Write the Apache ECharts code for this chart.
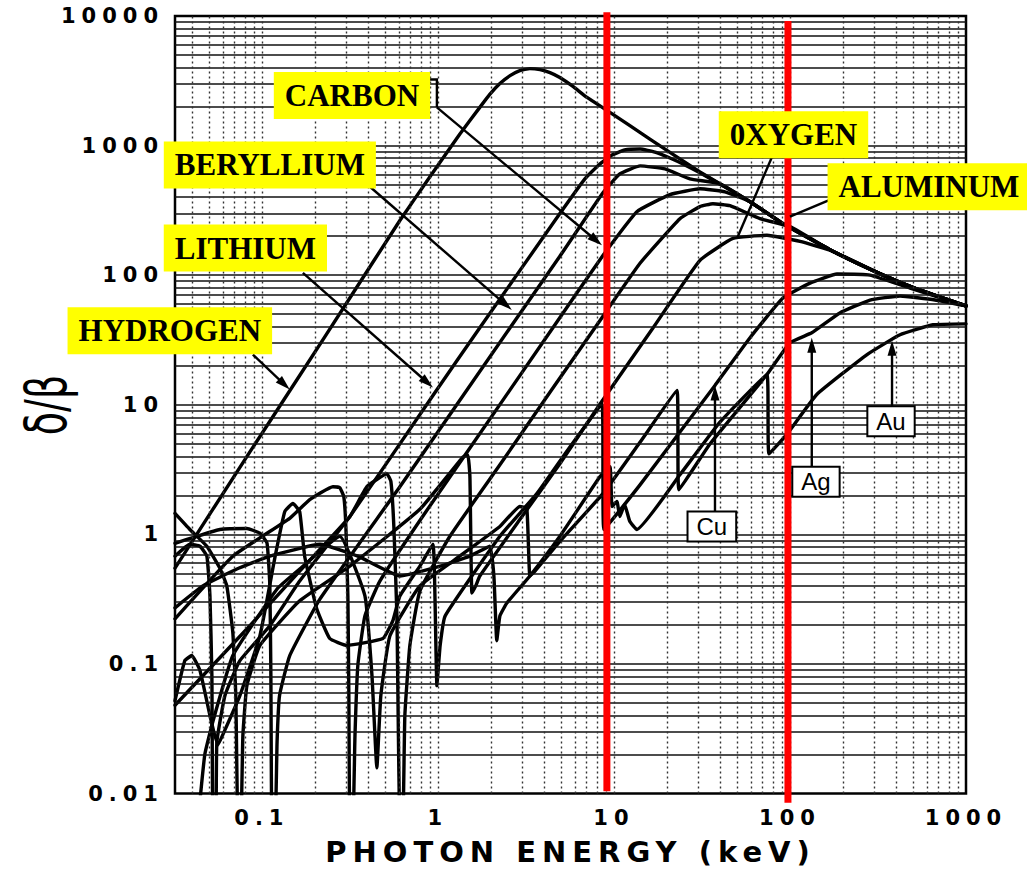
<!DOCTYPE html>
<html>
<head>
<meta charset="utf-8">
<script src="https://cdn.jsdelivr.net/npm/echarts@6/dist/echarts.min.js"></script>
<style>
html, body { margin: 0; padding: 0; background: #fff; }
#chart { width: 1027px; height: 871px; }
/* wide tracking for the tick labels and the axis title */
#chart text[style*="Arial"] { letter-spacing: 6px; }
#chart text[style*="Verdana"] { letter-spacing: 6px; }
</style>
</head>
<body>
<div id="chart"></div>
<script>
// Axis ranges and tick labels
const xRange = [0.0321, 1000];
const yRange = [0.01, 10000];
const xTickLabels = ['0.1', '1', '10', '100', '1000'];
const yTickLabels = ['0.01', '0.1', '1', '10', '100', '1000', '10000'];

// delta/beta versus photon energy (keV) for each element: [energy, delta/beta]
const hydrogen = [[0.0321,0.549],[0.0855,4.33],[0.164,16.8],[0.316,66.6],[0.608,264],[0.901,574],[1.33,1225],[1.73,1972],[1.97,2483],[2.25,3013],[2.57,3469],[2.92,3793],[3.33,3926],[3.80,3855],[4.33,3656],[4.93,3350],[5.85,2858],[7.03,2353],[9.49,1806],[16.0,1122],[30.8,626],[59.3,369],[91.2,250],[175,153],[338,100],[527,78],[1000,57.9]];
const lithium = [[0.0321,0.678],[0.039,0.838],[0.0445,0.809],[0.0487,0.678],[0.0507,0.335],[0.052,0.082],[0.0527,0.006],[0.0548,0.006],[0.0555,0.025],[0.0617,0.057],[0.075,0.106],[0.111,0.197],[0.164,0.436],[0.316,1.37],[0.937,11.8],[1.73,39.3],[4.93,299],[6.84,554],[8.32,721],[9.75,846],[11.5,924],[14.1,940],[17.1,891],[20.8,802],[25.3,709],[30.8,616],[59.3,369],[91.2,250],[175,153],[338,100],[527,78],[1000,57.9]];
const beryllium = [[0.0321,0.853],[0.0428,0.966],[0.0577,1.09],[0.0822,1.11],[0.0975,1.02],[0.107,0.853],[0.111,0.40],[0.1125,0.082],[0.114,0.006],[0.119,0.006],[0.122,0.025],[0.126,0.057],[0.144,0.116],[0.214,0.318],[0.608,2.33],[2.57,39.3],[4.93,140],[8.66,433],[10.8,605],[14.1,697],[19.5,660],[27.0,554],[40.0,507],[59.3,369],[91.2,250],[175,153],[338,100],[527,78],[1000,57.9]];
const carbon = [[0.0321,0.223],[0.0684,0.678],[0.144,1.33],[0.187,1.85],[0.253,2.33],[0.277,2.29],[0.292,1.95],[0.300,1.15],[0.308,0.335],[0.312,0.057],[0.316,0.006],[0.329,0.006],[0.338,0.028],[0.351,0.098],[0.385,0.235],[0.468,0.436],[0.790,1.28],[1.52,4.64],[4.50,39.3],[8.66,142],[13.5,309],[20.8,418],[30.8,464],[42.7,440],[59.3,369],[91.2,250],[175,153],[338,100],[527,78],[1000,57.9]];
const oxygen = [[0.0321,0.048],[0.0855,0.197],[0.164,0.520],[0.316,1.37],[0.395,2.33],[0.513,2.93],[0.541,2.55],[0.562,1.15],[0.585,0.235],[0.608,0.006],[0.632,0.006],[0.649,0.040],[0.693,0.139],[0.790,0.366],[1.17,0.966],[2.25,3.44],[4.33,12.5],[7.80,39.3],[14.1,124],[23.7,273],[30.8,338],[36.5,356],[45.6,344],[67.6,273],[100,237],[175,153],[338,100],[527,78],[1000,57.9]];
const aluminum = [[0.0321,1.45],[0.039,1.09],[0.0487,0.809],[0.0577,0.549],[0.0632,0.40],[0.0684,0.174],[0.0711,0.057],[0.0731,0.006],[0.076,0.006],[0.078,0.028],[0.0822,0.068],[0.0975,0.139],[0.164,0.307],[0.316,0.569],[0.790,1.56],[1.39,3.96],[1.48,4.10],[1.52,2.78],[1.56,0.353],[1.64,0.40],[1.73,0.477],[2.92,1.30],[4.93,3.50],[8.32,10.1],[16.7,39.3],[30.8,130],[47.4,192],[74.0,203],[114,182],[175,153],[338,100],[527,78],[1000,57.9]];
const copper = [[0.0321,0.052],[0.0365,0.106],[0.040,0.116],[0.0445,0.089],[0.0507,0.040],[0.0562,0.0237],[0.0617,0.031],[0.075,0.057],[0.0975,0.165],[0.119,0.678],[0.135,1.50],[0.150,1.73],[0.164,1.50],[0.175,0.678],[0.205,0.266],[0.243,0.157],[0.304,0.139],[0.487,0.157],[0.555,0.216],[0.608,0.335],[0.790,0.569],[0.937,0.838],[0.962,0.335],[0.987,0.068],[1.03,0.139],[1.10,0.235],[2.25,0.966],[3.65,2.06],[5.62,4.72],[8.55,10.1],[8.77,1.09],[14.1,2.42],[37.5,14.1],[59.3,32.9],[91.2,66.6],[130,86.8],[185,102],[285,100],[481,79.4],[1000,57.9]];
const silver = [[0.0433,0.006],[0.0474,0.020],[0.0527,0.036],[0.0684,0.116],[0.122,0.379],[0.164,0.540],[0.277,0.966],[0.385,0.335],[0.422,0.082],[0.450,0.0158],[0.474,0.057],[0.534,0.165],[0.790,0.40],[1.33,0.678],[2.25,1.15],[2.92,1.64],[3.20,1.58],[3.33,0.477],[3.56,0.520],[4.93,0.884],[8.66,2.06],[14.1,5.16],[22.8,12.9],[23.4,2.21],[35.1,4.98],[74.0,17.1],[100,30.1],[133,35.9],[192,51.1],[285,64.3],[422,69],[667,64.3],[1000,57.9]];
const gold = [[0.0321,0.271],[0.0462,0.40],[0.0721,0.540],[0.111,0.678],[0.214,0.838],[0.351,0.678],[0.608,0.477],[1.03,0.569],[1.52,0.678],[1.97,0.809],[2.08,0.477],[2.16,0.151],[2.25,0.235],[2.47,0.296],[3.33,0.477],[4.93,0.966],[8.32,2.78],[9.49,3.32],[9.75,1.64],[10.4,1.79],[10.8,1.37],[11.5,1.70],[12.3,1.26],[13.5,1.09],[23.7,2.88],[40.0,7.34],[74.0,17.1],[76.0,4.18],[96.2,5.94],[142,12.0],[274,24.4],[422,34.7],[649,41.4],[1000,42.1]];

const elementNames = ['Hydrogen','Lithium','Beryllium','Carbon','Oxygen','Aluminum','Copper','Silver','Gold'];
const elementCurves = [hydrogen, lithium, beryllium, carbon, oxygen, aluminum, copper, silver, gold];

// Red marker lines: energy (keV) and vertical extent [bottom, top]
const redLineEnergy = [9.12, 97.4];
const redLineSpan = [[0.0104, 10700], [0.0085, 9160]];

// Highlighted element names, centred at [energy, delta/beta]
const elementLabels = [
  { text: 'CARBON', at: [0.325, 2438] },
  { text: 'BERYLLIUM', at: [0.111, 709] },
  { text: 'LITHIUM', at: [0.0806, 162] },
  { text: 'HYDROGEN', at: [0.030, 37.2] },
  { text: '0XYGEN', at: [104.7, 1214] },
  { text: 'ALUMINUM', at: [616, 481] }
];
// Boxed element symbols
const boxLabels = [
  { text: 'Cu', at: [36.0, 1.15] },
  { text: 'Ag', at: [140.5, 2.55] },
  { text: 'Au', at: [375, 7.47] }
];
// Pointer lines in data space; head marks an arrow tip at the last point
const pointers = [
  { pts: [[0.901, 3236], [0.987, 3236], [0.987, 1972]], head: false },
  { pts: [[0.987, 1972], [8.55, 170]], head: true },
  { pts: [[0.411, 481], [2.63, 53.9]], head: true },
  { pts: [[0.171, 104], [0.937, 13.6]], head: true },
  { pts: [[0.0889, 24.4], [0.144, 13.1]], head: true },
  { pts: [[50.0, 192], [79.0, 816]], head: false },
  { pts: [[100, 283], [175, 389]], head: false },
  { pts: [[37.5, 1.47], [37.5, 14.1]], head: true },
  { pts: [[133, 3.26], [133, 32.9]], head: true },
  { pts: [[380, 9.57], [380, 31.2]], head: true }
];

// Log grid positions: every 1..9 x 10^n inside the ranges
const hGrid = [], vGrid = [];
for (let d = -2; d <= 3; d++) for (let k = 1; k <= 9; k++) {
  const v = +(k * Math.pow(10, d)).toPrecision(3);
  if (v > yRange[0] && v < yRange[1]) hGrid.push(v);
}
for (let d = -2; d <= 2; d++) for (let k = 1; k <= 9; k++) {
  const v = +(k * Math.pow(10, d)).toPrecision(3);
  if (v > xRange[0] && v < xRange[1]) vGrid.push(v);
}

function decadeLabel(labels, offset) {
  return function (v) {
    const l = Math.log10(v), r = Math.round(l);
    if (Math.abs(l - r) > 1e-6) return '';
    return labels[r + offset] || '';
  };
}

const chart = echarts.init(document.getElementById('chart'), null, { renderer: 'svg' });

const tickFont = { fontSize: 21, fontWeight: 'bold', fontFamily: 'DejaVu Sans, Arial', color: '#000' };

const series = [];
series.push({
  type: 'line', name: 'hgrid', data: [], silent: true, z: 1,
  markLine: {
    silent: true, symbol: ['none', 'none'], label: { show: false }, animation: false,
    lineStyle: { color: '#111', width: 1.6, type: 'solid' },
    emphasis: { disabled: true },
    data: hGrid.map(v => ({ yAxis: v }))
  }
});
series.push({
  type: 'line', name: 'vgrid', data: [], silent: true, z: 1,
  markLine: {
    silent: true, symbol: ['none', 'none'], label: { show: false }, animation: false,
    lineStyle: { color: '#333', width: 1.4, type: [2, 3] },
    emphasis: { disabled: true },
    data: vGrid.map(v => ({ xAxis: v }))
  }
});
elementCurves.forEach((c, i) => {
  series.push({
    type: 'line', name: elementNames[i], data: c, symbol: 'none', showSymbol: false,
    smooth: 0.12, silent: true, z: 3,
    lineStyle: { color: '#000', width: 3.4, join: 'round', cap: 'round' }
  });
});
redLineEnergy.forEach((e, i) => {
  series.push({
    type: 'line', name: 'marker' + i, data: [[e, redLineSpan[i][0]], [e, redLineSpan[i][1]]],
    symbol: 'none', clip: false, silent: true, z: 5,
    lineStyle: { color: '#ff0000', width: 7 }
  });
});

chart.setOption({
  animation: false,
  backgroundColor: '#fff',
  grid: { left: 175, right: 61, top: 16, bottom: 72, show: true, borderColor: '#000', borderWidth: 2.5, backgroundColor: 'transparent' },
  xAxis: {
    type: 'log', logBase: 10, min: xRange[0], max: xRange[1],
    axisLine: { show: false }, axisTick: { show: false }, splitLine: { show: false },
    axisLabel: Object.assign({ margin: 14, formatter: decadeLabel(xTickLabels, 1), showMinLabel: false }, tickFont),
    name: 'PHOTON ENERGY (keV)', nameLocation: 'middle', nameGap: 58,
    nameTextStyle: { fontSize: 29, fontWeight: 'bold', fontFamily: 'DejaVu Sans, Verdana', color: '#000', verticalAlign: 'middle' }
  },
  yAxis: {
    type: 'log', logBase: 10, min: yRange[0], max: yRange[1],
    axisLine: { show: false }, axisTick: { show: false }, splitLine: { show: false },
    axisLabel: Object.assign({ margin: 11, formatter: decadeLabel(yTickLabels, 2) }, tickFont)
  },
  series: series
});

// Annotations placed from data coordinates
const toPx = p => chart.convertToPixel({ gridIndex: 0 }, p);
const graphics = [];

graphics.push({
  type: 'text', x: 47, y: 405, rotation: Math.PI / 2, scaleX: 0.68, z: 100,
  style: { text: 'δ/β', font: '56px "DejaVu Sans"', fill: '#000', align: 'center', verticalAlign: 'middle', textAlign: 'center', textVerticalAlign: 'middle' }
});

pointers.forEach(p => {
  const pts = p.pts.map(toPx);
  let line = pts.slice();
  if (p.head) {
    const a = pts[pts.length - 2], b = pts[pts.length - 1];
    const dx = b[0] - a[0], dy = b[1] - a[1], L = Math.hypot(dx, dy), ux = dx / L, uy = dy / L;
    const len = 15, half = 4.5;
    const bx = b[0] - ux * len, by = b[1] - uy * len;
    line[line.length - 1] = [b[0] - ux * len * 0.6, b[1] - uy * len * 0.6];
    graphics.push({ type: 'polygon', z: 101, shape: { points: [[b[0], b[1]], [bx - uy * half, by + ux * half], [bx + uy * half, by - ux * half]] }, style: { fill: '#000' } });
  }
  graphics.push({ type: 'polyline', z: 101, shape: { points: line }, style: { stroke: '#000', lineWidth: 2.4, fill: null } });
});

elementLabels.forEach(l => {
  const c = toPx(l.at);
  graphics.push({
    type: 'text', x: c[0], y: c[1], z: 102,
    style: { text: l.text, font: 'bold 31px "Liberation Serif"', fill: '#000', backgroundColor: '#ffff00', padding: [8, 11],
      align: 'center', verticalAlign: 'middle', textAlign: 'center', textVerticalAlign: 'middle' }
  });
});

boxLabels.forEach(l => {
  const c = toPx(l.at);
  graphics.push({
    type: 'text', x: c[0], y: c[1], z: 102,
    style: { text: l.text, font: '24px "Liberation Sans"', fill: '#000', backgroundColor: '#fff', borderColor: '#000', borderWidth: 2,
      padding: [2, 8], align: 'center', verticalAlign: 'middle', textAlign: 'center', textVerticalAlign: 'middle' }
  });
});

chart.setOption({ graphic: graphics });
</script>
</body>
</html>
